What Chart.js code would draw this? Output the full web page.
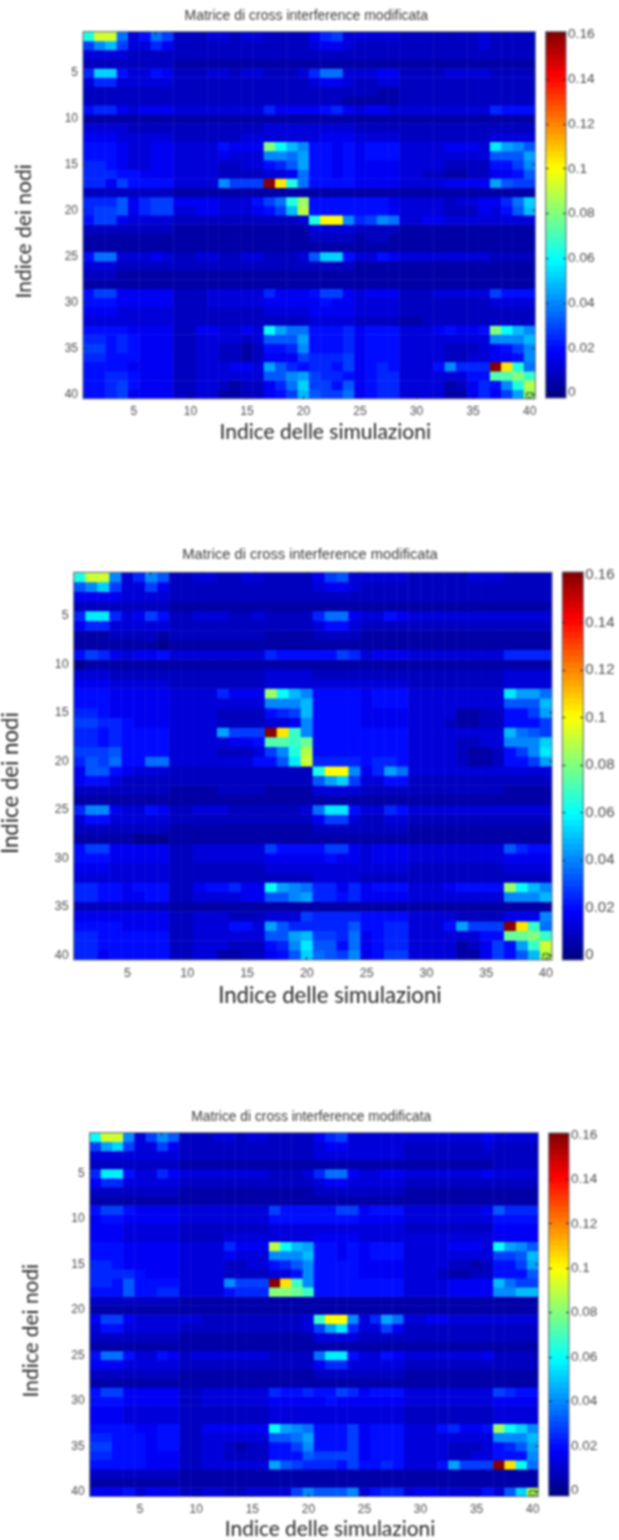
<!DOCTYPE html>
<html>
<head>
<meta charset="utf-8">
<title>Matrice di cross interference modificata</title>
<script src="https://cdn.jsdelivr.net/npm/chart.js@4"></script>
<style>
html,body{margin:0;padding:0;background:#fff;width:619px;height:1540px;overflow:hidden;position:relative}
canvas{position:absolute;filter:blur(0.8px)}
</style>
</head>
<body>
<script>
// Each character is one cell: its index in levelDigits times levelStep gives the value.
const levelDigits = "0123456789abcdefghijklmnopqrstuvwxyzABCDE";
const levelStep = 0.004;

const simulationLabels = ["1","2","3","4","5","6","7","8","9","10","11","12","13","14","15","16","17","18","19","20","21","22","23","24","25","26","27","28","29","30","31","32","33","34","35","36","37","38","39","40"];
const axisTicks = [5,10,15,20,25,30,35,40];
const colorbarTicks = [0,0.02,0.04,0.06,0.08,0.1,0.12,0.14,0.16];
const colorbarLevels = 64;
const titleText = "Matrice di cross interference modificata";
const xTitleText = "Indice delle simulazioni";
const yTitleText = "Indice dei nodi";

const matrixTop = [
"gnn93597 22233233 2222 4673 3333 2222 2223 2222",
"7ac73364 22222222 2222 3443 2222 2222 2223 2222",
"33332222 22222222 2222 2222 2222 2222 2222 2222",
"22222222 11111111 1111 1111 1111 1111 1111 1111",
"6dd53354 22233233 2223 6993 3344 2222 3333 2222",
"36633333 22222222 2222 3443 2233 2222 2222 2222",
"22222222 22222222 2222 2222 2211 2222 2222 2222",
"22222222 22222222 2222 2221 1111 2222 2222 2222",
"56643444 33333333 6444 4564 3443 3333 3333 6555",
"11111111 11111111 1111 1111 1111 1111 1111 1111",
"33332222 22222222 3333 3333 2222 2222 2222 2222",
"44433333 22222233 3333 3444 3333 2222 2222 3333",
"55543344 33335444 kfca 5545 4555 33334443 eba8",
"55543344 33334333 aa9b 5545 4555 33333333 888b",
"66543344 33332233 568b 5545 4444 33332222 557a",
"66655444 33332222 3349 5545 4444 33221122 4458",
"66475555 3333a777 Eqg9 5555 4444 33334444 b877",
"22222222 11111111 1111 1111 1111 1111 1111 1111",
"66684677 44443335 79gl 5555 5554 33332334 469d",
"67784677 33443334 57cm 5555 5554 33332224 358c",
"57743333 22222222 2223 gppa 67a9 33443333 3333",
"22222222 11111111 1111 3333 2222 1111 1111 1111",
"11111111 11111111 1111 2222 1221 1111 1111 1111",
"11111111 11111111 1111 1111 1111 1111 1111 1111",
"59933343 22332233 2223 8dd5 3354 33333333 2222",
"33322222 22222222 2222 2222 1111 1111 1111 1111",
"22211111 11111111 1111 1111 1111 1111 1111 1111",
"11111111 11111111 1111 1111 1111 1111 1111 1111",
"57744444 22233333 6444 5774 3444 22233333 7555",
"55544444 22233333 4444 4544 3333 22222222 3333",
"44433333 22222222 3333 4444 3333 22222222 2222",
"33333333 22222222 2222 3333 2222 11222222 2222",
"55554444 22443343 fb99 5556 4555 33345445 kfca",
"66565444 22333323 888b 5556 4555 33333333 aaac",
"77565444 22332212 556a 5556 4555 33332223 457a",
"66555444 22332212 4447 6667 4555 33332233 445a",
"55554444 22333443 b865 6657 4565 3335a666 Eqg9",
"55665444 22333333 88ab 7665 4566 33333355 iikh",
"55675444 22332122 469d 7758 4566 33331246 5agm",
"55674444 22331122 457c 8779 4566 33331146 47bl"
];

const matrixMiddle = [
"gnna36a8 22332233 2222 4783 3333 2222 2333 2222",
"8ad73374 22222222 2222 3443 2222 2222 2222 2222",
"44443333 22222222 2222 2222 2222 2222 2222 2222",
"22222222 11111111 1111 1111 1111 1111 1111 1111",
"6ee63475 22333223 2222 6994 3354 3333 3333 3333",
"46633333 22222222 2222 3553 2222 2222 2222 2222",
"11122221 22222222 1111 2222 1111 1111 1111 1111",
"11111110 11111111 1111 1111 1111 1111 1111 1111",
"57643445 33333333 6555 5576 3444 3333 3333 6666",
"01111111 11111111 1111 1111 1111 1111 1111 1111",
"33322222 22222222 3333 2222 2222 2222 2222 3333",
"44433333 22222222 3333 3333 3333 2222 2222 3333",
"55544444 33336444 lfca 5555 4555 33333333 ebb9",
"55544444 33333333 aaac 5555 4555 33333333 888c",
"66544444 33332222 567c 5555 4444 33331122 557b",
"77665444 33332222 334a 5555 4444 33321122 5557",
"66565555 3333b777 Eqha 5555 5555 33333333 c987",
"66565555 33333445 iihj 5555 5555 33332233 aaad",
"77785555 33332223 7agm 5555 5555 33332112 57ae",
"68795599 33333335 58en 6666 5665 33332112 557b",
"48854333 22222222 2222 gppa 46b9 33333333 3333",
"45532222 22222222 2222 8bd7 3355 2222 2222 2222",
"22222222 11112222 1111 3333 2222 2222 2222 1111",
"11111111 11111111 1111 1111 1111 1111 1111 1111",
"6aa43354 22333222 2223 9ee5 3365 3333 3333 3333",
"35533333 22222222 2222 4773 2233 2222 2222 2222",
"22222222 11111111 1111 2222 2222 1111 1111 1111",
"11111000 11111111 1111 1111 1111 1111 1111 1111",
"57744444 22333333 7555 5774 3444 3333 3333 8655",
"55544444 22333333 4444 4544 3444 3333 3333 4444",
"44433333 22222222 3333 3333 3333 2222 2222 3333",
"33333333 22222222 2222 3333 2222 2222 2222 2222",
"66554555 22455644 fba9 6646 4555 33345555 lfca",
"66554455 22333344 88ab 6656 4444 33333333 aaac",
"22222222 11111111 1111 1111 1111 1111 1111 1111",
"44444444 22333222 3337 6666 5555 33332222 444a",
"55554444 22333553 b866 6668 5566 3335b777 Eqh9",
"66555555 22333333 88bc 7769 4566 33333355 jjkh",
"66555555 22333222 56ae 8859 4566 33331247 5bhn",
"66455555 22331122 458d 987a 4577 33331147 58cm"
];

const matrixBottom = [
"fnna37a8 22233233 2222 4673 3333 3333 3334 3333",
"7bd73374 22222222 2222 3443 3333 2222 2223 2222",
"33333333 22222222 2222 3333 3333 2222 2222 2222",
"22222222 11111111 1111 1111 1111 1111 1111 2222",
"6ee53364 33333333 2223 6994 3344 3333 3334 3333",
"46633333 22222222 2222 3443 3333 2222 2222 2222",
"22222222 11111111 1111 2222 2222 1111 1111 1111",
"11111111 11111111 1111 1111 1111 1111 1111 1111",
"57754444 33333333 7555 5577 4555 3333 3334 8666",
"45544444 33333333 5555 5555 4444 3333 3333 5555",
"44433333 22222222 3333 3333 3333 2222 2222 4444",
"44433333 22223333 3333 4444 3333 3333 3333 4444",
"55544444 33336444 mfcb 5545 4555 33334443 fba8",
"55544444 33334333 aaac 5545 4555 33333333 778c",
"66544444 33332233 568a 5555 4444 33332212 557b",
"66665444 33332222 335a 5555 4444 33321122 5558",
"66585555 3333a777 Eqha 5555 5555 33334444 c977",
"55585566 33335666 kkjh 5555 5555 33334444 aacc",
"22222222 11111111 1111 1111 1111 1111 1111 1111",
"11111111 11111111 1111 1111 1111 1111 1111 1111",
"47743333 33222222 2223 hppa 36b9 33443333 3333",
"35533333 22222222 2223 7be6 3374 2222 2222 2222",
"22222222 11111111 1111 3333 2222 2222 2222 2222",
"11111111 11111111 1111 1111 1111 1111 1111 1111",
"59953354 23333333 2222 9ee5 3354 3333 3334 2222",
"44433333 22222222 2222 4663 3333 2222 2222 2222",
"22222222 11111111 1111 2222 2222 1111 1111 1111",
"11111111 11111111 1111 1111 1111 1111 1111 1111",
"57744444 22333333 6556 5576 4555 3333 3333 7655",
"55544444 22333333 4444 4544 4444 3333 3333 4444",
"44433333 22222222 3333 3333 3333 2222 2222 3333",
"44433333 22222222 3333 3333 3333 2222 2222 3333",
"55554455 22444444 fba9 5557 4555 33356445 lfda",
"66555455 22333333 889b 5557 4555 33333333 aaac",
"77555455 22332122 557a 5557 4555 33332223 568b",
"66555444 22332222 5558 7777 4555 33332233 555a",
"55555444 22333333 b876 6657 5565 3335b777 Eqf9",
"22222222 11111111 1111 1111 1111 1111 1111 1111",
"11111111 11111111 1111 1111 1111 1111 1111 1111",
"44453444 22332233 337a 888a 3566 34433335 38dm"
];

// Colour limits of the three colour bars.
const colorLimitsTop = [-0.0024, 0.1613];
const colorLimitsMiddle = [-0.0021, 0.1613];
const colorLimitsBottom = [-0.0026, 0.1609];

// Page layout of the three panels.
const panels = [
  {matrix:matrixTop, limits:colorLimitsTop, top:0, width:599, plotL:83, plotR:535.3, plotT:31.7, plotB:398,
   titleSize:14, titlePadTop:9, axisSize:21, yTitleLeft:13.5, xAxisH:44.2, tickSize:12,
   barL:545.7, barR:566, barT:31.7, barB:398, barTick:13.7},
  {matrix:matrixMiddle, limits:colorLimitsMiddle, top:540, width:620, plotL:73.7, plotR:552, plotT:572.3, plotB:959.7,
   titleSize:14.7, titlePadTop:7.65, axisSize:22.2, yTitleLeft:0, xAxisH:47.1, tickSize:12.5,
   barL:562.3, barR:583.3, barT:572, barB:960, barTick:15},
  {matrix:matrixBottom, limits:colorLimitsBottom, top:1100, width:602, plotL:89.7, plotR:538.3, plotT:1132.7, plotB:1496,
   titleSize:13.8, titlePadTop:9.8, axisSize:20.9, yTitleLeft:20.5, xAxisH:43.5, tickSize:12,
   barL:548.7, barR:569, barT:1133, barB:1496, barTick:13.5}
];

function clamp01(v){return Math.max(0,Math.min(1,v));}
function jet(t){
  const r=clamp01(1.5-Math.abs(4*t-3)),g=clamp01(1.5-Math.abs(4*t-2)),b=clamp01(1.5-Math.abs(4*t-1));
  return `rgb(${Math.round(r*255)},${Math.round(g*255)},${Math.round(b*255)})`;
}
function parseMatrix(rows){
  return rows.map(r=>r.replace(/ /g,'').split('').map(c=>levelDigits.indexOf(c)*levelStep));
}
function addCanvas(left,top,w,h){
  const c=document.createElement('canvas');
  c.width=w;c.height=h;c.style.left=left+'px';c.style.top=top+'px';c.style.width=w+'px';c.style.height=h+'px';
  document.body.appendChild(c);
  return c;
}
const tickGrid={drawOnChartArea:false,drawTicks:true,tickLength:-3,color:'#1a2340',z:1,offset:false};
const noBorder={display:false};
const labelFont=s=>({family:'"Liberation Sans",Arial,sans-serif',size:s});
const axisPad='      ';
const framePlugin={
  id:'plotFrame',
  afterDatasetsDraw(chart){
    const a=chart.chartArea,ctx=chart.ctx;
    ctx.save();ctx.strokeStyle='#5a6478';ctx.lineWidth=1;
    ctx.strokeRect(a.left,a.top,a.right-a.left,a.bottom-a.top);
    ctx.restore();
  }
};

panels.forEach(p=>{
  const values=parseMatrix(p.matrix);
  const h=Math.ceil(p.plotB-p.top+p.xAxisH);
  const toT=v=>(v-p.limits[0])/(p.limits[1]-p.limits[0]);
  const datasets=[{
    type:'scatter',data:[{x:'40',y:40.2}],pointStyle:'rect',pointRadius:4.4,pointHoverRadius:4.4,
    backgroundColor:'rgba(0,0,0,0)',borderColor:'#21402a',borderWidth:1,order:-1
  }];
  values.forEach((row,ri)=>{
    datasets.push({
      type:'bar',
      data:row.map(()=>[ri+0.47,ri+1.53]),
      backgroundColor:row.map(v=>jet(toT(v))),
      borderWidth:0,grouped:false,barPercentage:1.04,categoryPercentage:1
    });
  });
  const titleBottom=p.titlePadTop+p.titleSize+1;
  new Chart(addCanvas(0,p.top,p.width,h),{
    type:'bar',
    data:{labels:simulationLabels,datasets},
    plugins:[framePlugin],
    options:{
      responsive:false,animation:false,events:[],
      layout:{padding:{left:p.yTitleLeft,right:0,top:0,bottom:0}},
      plugins:{
        legend:{display:false},tooltip:{enabled:false},
        title:{display:true,text:titleText,color:'#3a3a3a',font:{...labelFont(p.titleSize),weight:'normal',lineHeight:1},
               padding:{top:p.titlePadTop,bottom:1}}
      },
      scales:{
        x:{type:'category',position:'bottom',offset:true,
           afterFit:s=>{s.height=p.xAxisH;},
           grid:tickGrid,border:noBorder,
           ticks:{autoSkip:false,maxRotation:0,minRotation:0,padding:9,color:'#4a4a4a',font:labelFont(p.tickSize),
                  callback:(v,i)=>axisTicks.includes(i+1)?simulationLabels[i]:null},
           title:{display:true,text:axisPad+xTitleText,color:'#262626',
                  font:{family:'Lato,"Open Sans",sans-serif',size:p.axisSize,lineHeight:1},padding:0}},
        y:{type:'linear',position:'left',reverse:true,min:0.5,max:40.5,bounds:'data',
           afterBuildTicks:s=>{s.ticks=axisTicks.map(value=>({value}));},
           afterFit:s=>{s.width=p.plotL-p.yTitleLeft;},
           grid:tickGrid,border:noBorder,
           ticks:{autoSkip:false,padding:8,color:'#4a4a4a',font:labelFont(p.tickSize),callback:v=>String(v)},
           title:{display:true,text:yTitleText+axisPad,color:'#262626',
                  font:{family:'Lato,"Open Sans",sans-serif',size:p.axisSize,lineHeight:1},padding:0}},
        xt:{type:'linear',position:'top',min:0.5,max:40.5,bounds:'data',
            afterBuildTicks:s=>{s.ticks=axisTicks.map(value=>({value}));},
            afterFit:s=>{s.height=p.plotT-p.top-titleBottom;},grid:tickGrid,border:noBorder,ticks:{display:false}},
        yr:{type:'linear',position:'right',reverse:true,min:0.5,max:40.5,bounds:'data',
            afterBuildTicks:s=>{s.ticks=axisTicks.map(value=>({value}));},
            afterFit:s=>{s.width=p.width-p.plotR;},grid:tickGrid,border:noBorder,ticks:{display:false}}
      }
    }
  });

  // Colour bar
  const bLeft=Math.floor(p.barL)-3,bTop=Math.floor(p.barT)-14,bW=619-bLeft,bH=Math.ceil(p.barB)+14-bTop;
  const barSets=[];
  const span=p.limits[1]-p.limits[0];
  for(let i=0;i<colorbarLevels;i++){
    barSets.push({
      data:[[p.limits[0]+span*i/colorbarLevels,p.limits[0]+span*(i+1.06)/colorbarLevels]],
      backgroundColor:jet((i+0.5)/colorbarLevels),
      borderWidth:0,grouped:false,barPercentage:1,categoryPercentage:1
    });
  }
  new Chart(addCanvas(bLeft,bTop,bW,bH),{
    type:'bar',
    data:{labels:['colorbar'],datasets:barSets},
    plugins:[framePlugin],
    options:{
      responsive:false,animation:false,events:[],
      layout:{padding:0},
      plugins:{legend:{display:false},tooltip:{enabled:false}},
      scales:{
        x:{display:true,afterFit:s=>{s.height=bTop+bH-p.barB;},grid:{display:false},border:noBorder,ticks:{display:false}},
        xt:{type:'linear',display:true,position:'top',min:0,max:1,afterFit:s=>{s.height=p.barT-bTop;},grid:{display:false},border:noBorder,ticks:{display:false}},
        y:{type:'linear',position:'right',min:p.limits[0],max:p.limits[1],bounds:'data',
           afterBuildTicks:s=>{s.ticks=colorbarTicks.map(value=>({value}));},
           afterFit:s=>{s.width=bLeft+bW-p.barR;},
           grid:tickGrid,border:noBorder,
           ticks:{autoSkip:false,padding:5,color:'#4a4a4a',font:labelFont(p.barTick),callback:v=>String(v)}},
        yl:{type:'linear',position:'left',min:p.limits[0],max:p.limits[1],bounds:'data',
            afterBuildTicks:s=>{s.ticks=colorbarTicks.map(value=>({value}));},
            afterFit:s=>{s.width=p.barL-bLeft;},
            grid:tickGrid,border:noBorder,ticks:{display:false}}
      }
    }
  });
});
</script>
</body>
</html>
